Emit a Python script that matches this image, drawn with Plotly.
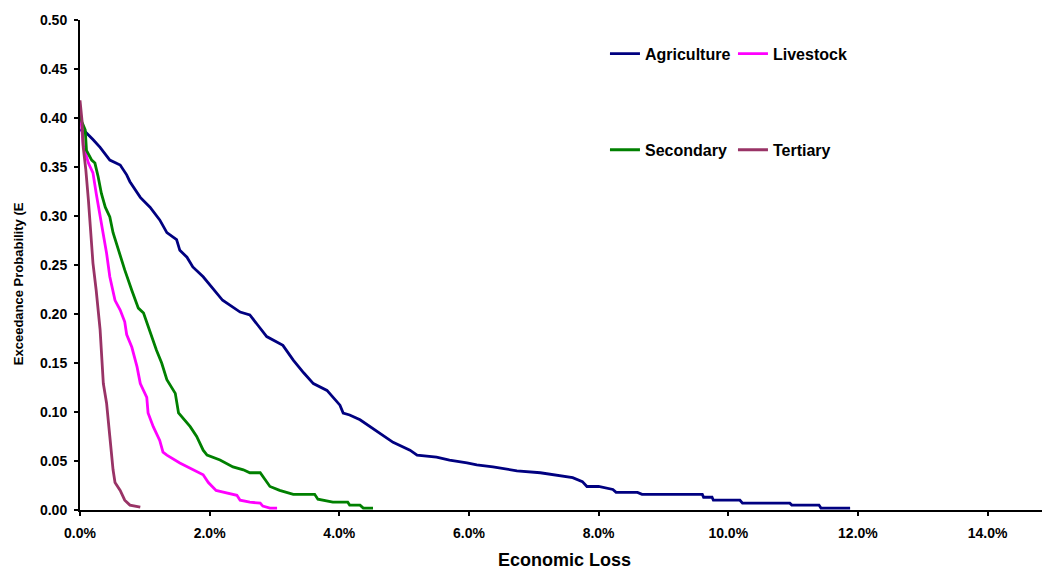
import plotly.graph_objects as go

# Exceedance probability curves by sector (loss in % of output)
agri_loss = [0.0, 0.08, 0.20, 0.31, 0.46, 0.62, 0.72, 0.77, 0.93, 1.08, 1.23, 1.34, 1.49, 1.54,
             1.65, 1.74, 1.90, 2.05, 2.20, 2.47, 2.62, 2.75, 2.88, 3.13, 3.29, 3.45, 3.60, 3.81,
             4.01, 4.06, 4.16, 4.32, 4.60, 4.83, 5.09, 5.20, 5.50, 5.70, 5.97, 6.12, 6.37, 6.74,
             7.10, 7.36, 7.60, 7.75, 7.82, 8.00, 8.22, 8.27, 8.60, 8.67, 9.60, 9.62, 9.75, 9.77,
             10.18, 10.22, 10.95, 10.98, 11.40, 11.43, 11.88]
agri_prob = [0.388, 0.386, 0.378, 0.370, 0.357, 0.352, 0.342, 0.335, 0.319, 0.309, 0.296, 0.283,
             0.276, 0.265, 0.258, 0.248, 0.238, 0.226, 0.214, 0.202, 0.199, 0.188, 0.177, 0.168,
             0.153, 0.140, 0.129, 0.122, 0.107, 0.099, 0.097, 0.092, 0.079, 0.069, 0.061, 0.056,
             0.054, 0.051, 0.048, 0.046, 0.044, 0.040, 0.038, 0.035, 0.033, 0.029, 0.024, 0.024,
             0.021, 0.018, 0.018, 0.016, 0.016, 0.013, 0.013, 0.010, 0.010, 0.007, 0.007, 0.005,
             0.005, 0.002, 0.002]

live_loss = [0.0, 0.05, 0.13, 0.20, 0.25, 0.31, 0.36, 0.41, 0.46, 0.54, 0.62, 0.69, 0.72, 0.80,
             0.88, 0.93, 1.03, 1.05, 1.13, 1.23, 1.28, 1.34, 1.54, 1.75, 1.90, 1.98, 2.10, 2.16,
             2.42, 2.47, 2.62, 2.78, 2.82, 2.93, 3.04]
live_prob = [0.410, 0.372, 0.354, 0.344, 0.323, 0.299, 0.283, 0.262, 0.238, 0.214, 0.204, 0.192,
             0.179, 0.166, 0.146, 0.129, 0.115, 0.099, 0.085, 0.071, 0.059, 0.056, 0.048, 0.041,
             0.036, 0.028, 0.020, 0.019, 0.015, 0.010, 0.008, 0.007, 0.004, 0.002, 0.002]

sec_loss = [0.0, 0.03, 0.08, 0.10, 0.18, 0.23, 0.28, 0.33, 0.39, 0.46, 0.51, 0.59, 0.69, 0.80,
            0.90, 0.98, 1.08, 1.18, 1.26, 1.34, 1.47, 1.52, 1.70, 1.80, 1.90, 1.96, 2.16, 2.36,
            2.52, 2.62, 2.78, 2.85, 2.93, 3.08, 3.29, 3.62, 3.67, 3.90, 4.13, 4.16, 4.32, 4.37,
            4.52]
sec_prob = [0.405, 0.396, 0.388, 0.367, 0.357, 0.354, 0.340, 0.323, 0.309, 0.299, 0.283, 0.265,
            0.245, 0.224, 0.206, 0.201, 0.181, 0.163, 0.150, 0.133, 0.119, 0.099, 0.085, 0.075,
            0.061, 0.056, 0.051, 0.044, 0.041, 0.038, 0.038, 0.031, 0.024, 0.020, 0.016, 0.016,
            0.011, 0.008, 0.008, 0.005, 0.005, 0.002, 0.002]

tert_loss = [0.0, 0.03, 0.05, 0.09, 0.13, 0.18, 0.20, 0.25, 0.31, 0.36, 0.41, 0.46, 0.49, 0.51,
             0.54, 0.62, 0.69, 0.77, 0.93]
tert_prob = [0.418, 0.398, 0.370, 0.347, 0.316, 0.273, 0.252, 0.224, 0.184, 0.129, 0.109, 0.075,
             0.051, 0.041, 0.028, 0.020, 0.010, 0.005, 0.003]

series = [
    ("Agriculture", agri_loss, agri_prob, "#000080", "legend"),
    ("Livestock", live_loss, live_prob, "#FF00FF", "legend"),
    ("Secondary", sec_loss, sec_prob, "#008000", "legend2"),
    ("Tertiary", tert_loss, tert_prob, "#993366", "legend2"),
]

y_ticks = [0.00, 0.05, 0.10, 0.15, 0.20, 0.25, 0.30, 0.35, 0.40, 0.45, 0.50]
x_ticks = [0, 2, 4, 6, 8, 10, 12, 14]

FONT = "Liberation Sans, Arial, sans-serif"

fig = go.Figure()
for name, xs, ys, color, leg in series:
    fig.add_trace(go.Scatter(
        x=xs, y=ys, name=name, mode="lines",
        line=dict(color=color, width=2.8),
        legend=leg,
    ))

legend_common = dict(
    orientation="h", xanchor="left", yanchor="middle",
    font=dict(family=FONT, size=16, color="black", weight="bold"),
    entrywidth=83, entrywidthmode="pixels",
    bgcolor="rgba(0,0,0,0)", itemclick=False,
)

tick_font = dict(family=FONT, size=14, color="black", weight="bold")

fig.update_layout(
    width=1042, height=572,
    margin=dict(l=80, r=0, t=20, b=62),
    paper_bgcolor="white", plot_bgcolor="white",
    font=dict(family=FONT, color="black"),
    showlegend=True,
    legend=dict(x=0.5457, y=0.931, **legend_common),
    legend2=dict(x=0.5457, y=0.735, **legend_common),
    xaxis=dict(
        range=[0, 14.84], tickvals=x_ticks,
        ticktext=[f"{v:.1f}%" for v in x_ticks],
        showgrid=False, zeroline=False,
        showline=True, linecolor="black", linewidth=2,
        ticks="outside", ticklen=4, tickwidth=2, tickcolor="black",
        tickfont=tick_font,
        ticklabelstandoff=5,
    ),
    yaxis=dict(
        range=[0, 0.5], tickvals=y_ticks,
        ticktext=[f"{v:.2f}" for v in y_ticks],
        showgrid=False, zeroline=False,
        showline=True, linecolor="black", linewidth=2,
        ticks="outside", ticklen=4, tickwidth=2, tickcolor="black",
        tickfont=tick_font,
        ticklabelstandoff=4,
    ),
    annotations=[
        dict(text="Exceedance Probability (E", xref="paper", yref="paper",
             x=-0.0644, y=0.461, textangle=-90, showarrow=False,
             xanchor="center", yanchor="middle",
             font=dict(family=FONT, size=13, color="black", weight="bold")),
        dict(text="Economic Loss", xref="paper", yref="paper",
             x=0.504, y=-0.102, showarrow=False,
             xanchor="center", yanchor="middle",
             font=dict(family=FONT, size=18, color="black", weight="bold")),
    ],
)

fig.write_html("out.html")
